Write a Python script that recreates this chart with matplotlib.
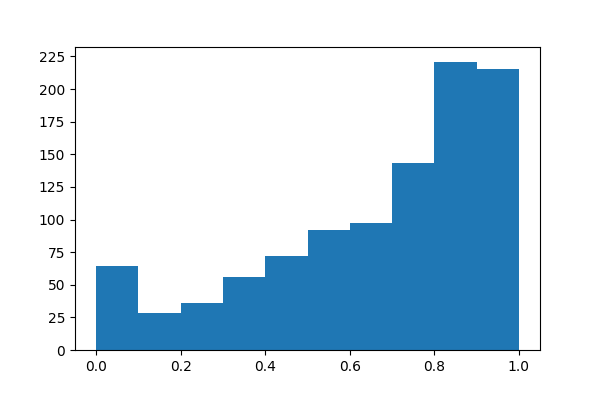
import matplotlib
matplotlib.use("Agg")
import matplotlib.pyplot as plt
from matplotlib.ticker import MultipleLocator

bin_edges = [0.0, 0.1, 0.2, 0.3, 0.4, 0.5, 0.6, 0.7, 0.8, 0.9, 1.0]
counts = [64, 28, 36, 56, 72, 92, 97, 143, 221, 215]

fig, ax = plt.subplots(figsize=(6, 4), dpi=100)
fig.subplots_adjust(left=0.125, right=0.9, top=0.882, bottom=0.125)
ax.hist(bin_edges[:-1], bins=bin_edges, weights=counts, color="#1f77b4")
ax.yaxis.set_major_locator(MultipleLocator(25))
fig.savefig("out.png", dpi=100)
